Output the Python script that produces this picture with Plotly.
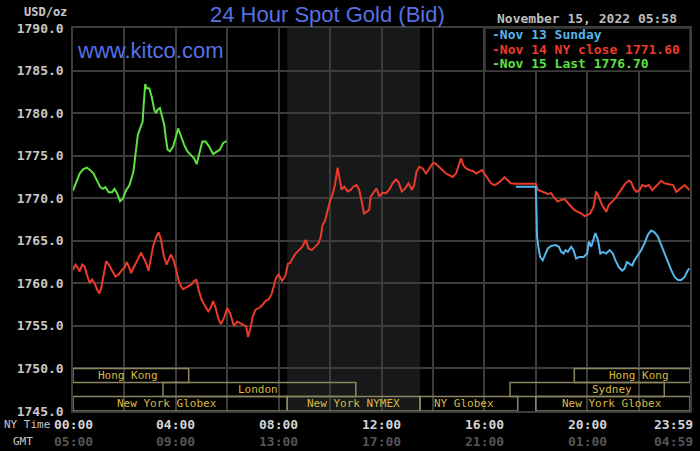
import plotly.graph_objects as go

# ---------------- data (hours since 00:00 NY time, USD/oz) ----------------
green_t = [0.0, 0.13, 0.26, 0.39, 0.54, 0.67, 0.8, 0.93, 1.06, 1.16, 1.26, 1.39, 1.52, 1.61, 1.72, 1.83,
           1.94, 2.06, 2.19, 2.35, 2.43, 2.52, 2.61, 2.71, 2.74, 2.81, 2.86, 2.97, 3.07, 3.16, 3.23, 3.29,
           3.38, 3.46, 3.55, 3.61, 3.68, 3.77, 3.9, 4.0, 4.09, 4.19, 4.32, 4.45, 4.58, 4.71, 4.81, 4.9,
           5.03, 5.16, 5.29, 5.45, 5.58, 5.71, 5.84, 5.97]
green_v = [1770.9, 1771.9, 1772.9, 1773.4, 1773.6, 1773.3, 1772.9, 1772.1, 1771.3, 1771.1, 1771.3, 1770.7,
           1770.7, 1771.1, 1770.55, 1769.65, 1769.95, 1770.9, 1771.5, 1773.1, 1775.1, 1777.4, 1778.2, 1779.0,
           1780.6, 1783.4, 1782.95, 1782.9, 1781.8, 1780.4, 1780.0, 1780.4, 1780.6, 1779.6, 1778.6, 1777.05,
           1775.7, 1775.5, 1776.1, 1777.2, 1778.2, 1777.4, 1776.3, 1775.5, 1775.1, 1774.7, 1774.0, 1775.1,
           1776.65, 1776.65, 1776.1, 1775.2, 1775.5, 1775.7, 1776.5, 1776.7]

red_t = [0.0, 0.1, 0.19, 0.26, 0.36, 0.45, 0.54, 0.65, 0.74, 0.84, 0.93, 1.03, 1.1, 1.19, 1.29, 1.39,
         1.52, 1.65, 1.78, 1.91, 2.0, 2.09, 2.17, 2.26, 2.35, 2.45, 2.54, 2.65, 2.74, 2.84, 2.94, 3.03,
         3.12, 3.23, 3.33, 3.42, 3.52, 3.64, 3.72, 3.81, 3.9, 4.0, 4.1, 4.19, 4.28, 4.39, 4.49, 4.62,
         4.71, 4.8, 4.9, 5.0, 5.14, 5.26, 5.35, 5.45, 5.55, 5.65, 5.75, 5.87, 6.0, 6.13, 6.26, 6.39,
         6.52, 6.65, 6.74, 6.81, 6.9, 6.99, 7.1, 7.23, 7.35, 7.48, 7.61, 7.72, 7.81, 7.9, 8.0, 8.13,
         8.26, 8.36, 8.45, 8.53, 8.66, 8.79, 8.92, 9.05, 9.16, 9.29, 9.42, 9.55, 9.64, 9.7, 9.81, 9.9,
         9.99, 10.09, 10.19, 10.29, 10.35, 10.45, 10.55, 10.68, 10.81, 10.9, 11.03, 11.13, 11.23, 11.32,
         11.42, 11.52, 11.58, 11.68, 11.81, 11.91, 12.04, 12.17, 12.3, 12.43, 12.56, 12.66, 12.79, 12.92,
         13.05, 13.18, 13.27, 13.36, 13.47, 13.6, 13.73, 13.86, 13.99, 14.09, 14.22, 14.38, 14.51, 14.64,
         14.77, 14.9, 15.0, 15.09, 15.18, 15.29, 15.42, 15.55, 15.68, 15.81, 15.91, 16.0, 16.13, 16.26,
         16.39, 16.52, 16.65, 16.78, 16.91, 17.04, 17.17, 17.5, 17.8, 18.0, 18.08, 18.21, 18.34, 18.47,
         18.6, 18.73, 18.86, 18.99, 19.12, 19.25, 19.38, 19.51, 19.64, 19.77, 19.9, 20.0, 20.12, 20.25,
         20.35, 20.45, 20.58, 20.74, 20.84, 20.97, 21.1, 21.23, 21.36, 21.49, 21.62, 21.71, 21.81, 21.91,
         22.04, 22.14, 22.27, 22.4, 22.53, 22.66, 22.79, 22.88, 23.01, 23.18, 23.34, 23.47, 23.62, 23.79,
         23.92, 23.98]
red_v = [1761.6, 1762.2, 1761.8, 1761.4, 1762.2, 1762.0, 1761.0, 1760.05, 1760.45, 1760.05, 1759.3, 1758.8,
         1759.5, 1761.2, 1762.6, 1762.2, 1761.4, 1760.8, 1761.05, 1761.6, 1761.8, 1762.5, 1762.0, 1761.2,
         1761.8, 1762.4, 1762.8, 1763.6, 1763.0, 1762.4, 1761.5, 1763.0, 1764.4, 1765.4, 1766.0, 1765.2,
         1763.4, 1762.2, 1762.8, 1763.4, 1762.8, 1761.8, 1760.45, 1759.7, 1759.3, 1759.5, 1759.7, 1759.9,
         1760.3, 1760.4, 1759.1, 1758.1, 1757.3, 1756.7, 1757.1, 1757.9, 1757.1, 1755.9, 1755.2, 1755.9,
         1757.1, 1756.3, 1755.0, 1755.5, 1755.3, 1755.1, 1754.9, 1753.7, 1754.7, 1756.1, 1756.9, 1757.1,
         1757.4, 1757.9, 1758.1, 1758.7, 1759.7, 1760.65, 1761.05, 1760.3, 1760.85, 1762.3, 1762.4, 1762.9,
         1763.5, 1763.9, 1764.3, 1765.1, 1764.1, 1763.9, 1764.3, 1764.7, 1765.5, 1766.8, 1767.4, 1768.6,
         1769.6, 1770.4, 1771.55, 1773.6, 1772.5, 1771.0, 1771.35, 1770.8, 1771.0, 1771.35, 1771.55, 1771.0,
         1769.6, 1768.2, 1768.4, 1768.6, 1770.2, 1770.65, 1771.15, 1770.2, 1770.65, 1770.6, 1771.0, 1771.75,
         1772.2, 1771.9, 1770.8, 1771.15, 1771.75, 1771.0, 1771.55, 1773.1, 1773.7, 1773.5, 1772.9, 1773.5,
         1774.1, 1774.1, 1773.7, 1773.3, 1772.9, 1772.7, 1772.5, 1772.9, 1773.9, 1774.7, 1773.9, 1773.5,
         1773.3, 1773.2, 1772.9, 1773.1, 1773.3, 1772.9, 1772.3, 1771.75, 1771.55, 1771.75, 1772.05, 1772.45,
         1772.1, 1771.75, 1771.7, 1771.7, 1771.7, 1771.7, 1771.0, 1770.8, 1770.65, 1770.5, 1770.6, 1770.0,
         1769.6, 1769.8, 1769.9, 1769.4, 1769.0, 1768.6, 1768.4, 1768.2, 1767.9, 1768.0, 1768.2, 1769.0,
         1770.8, 1770.2, 1769.2, 1768.4, 1769.2, 1769.6, 1770.0, 1770.6, 1771.15, 1771.75, 1772.05, 1771.9,
         1771.15, 1770.75, 1770.95, 1771.55, 1771.4, 1771.55, 1770.95, 1771.35, 1771.8, 1772.05, 1771.75,
         1771.65, 1771.55, 1770.75, 1771.15, 1771.55, 1771.15, 1770.95]

blue_t = [17.23, 17.6, 18.0, 18.03, 18.05, 18.1, 18.17, 18.27, 18.38, 18.47, 18.6, 18.77, 18.9, 18.99,
          19.08, 19.16, 19.25, 19.38, 19.47, 19.57, 19.7, 19.86, 20.0, 20.07, 20.16, 20.25, 20.32, 20.42,
          20.51, 20.61, 20.74, 20.87, 21.0, 21.1, 21.23, 21.36, 21.45, 21.55, 21.65, 21.75, 21.84, 21.97,
          22.1, 22.23, 22.36, 22.49, 22.62, 22.75, 22.88, 23.01, 23.14, 23.27, 23.4, 23.53, 23.66, 23.79,
          23.92, 23.98]
blue_v = [1771.35, 1771.35, 1771.35, 1768.2, 1765.5, 1764.3, 1763.1, 1762.7, 1763.5, 1764.1, 1764.4, 1764.5,
          1764.3, 1763.7, 1763.5, 1763.9, 1763.7, 1764.3, 1763.9, 1762.9, 1763.1, 1763.1, 1763.5, 1764.9,
          1764.3, 1765.1, 1765.9, 1765.1, 1763.5, 1763.7, 1763.5, 1763.9, 1763.5, 1762.7, 1761.9, 1761.5,
          1761.7, 1762.5, 1762.3, 1762.1, 1762.7, 1763.3, 1763.9, 1764.7, 1765.7, 1766.2, 1766.0, 1765.5,
          1764.5, 1763.5, 1762.5, 1761.55, 1760.75, 1760.4, 1760.4, 1760.75, 1761.55, 1761.75]

legend_labels = ["Nov 13 Sunday", "Nov 14 NY close 1771.60", "Nov 15 Last 1776.70"]

y_ticks = [1745, 1750, 1755, 1760, 1765, 1770, 1775, 1780, 1785, 1790]
x_tick_hours = [0, 4, 8, 12, 16, 20, 24]
ny_labels = ["00:00", "04:00", "08:00", "12:00", "16:00", "20:00", "23:59"]
gmt_labels = ["05:00", "09:00", "13:00", "17:00", "21:00", "01:00", "04:59"]

nymex_start, nymex_end = 8.333, 13.5

session_names = ["Hong Kong", "Hong Kong", "London", "Sydney",
                 "New York Globex", "New York NYMEX", "NY Globex", "New York Globex"]
session_start = [0, 19.5, 3.5, 17, 0, 8.333, 13.5, 18]
session_end = [4.5, 24, 11, 23, 8.333, 13.5, 17.3, 24]
session_row = [0, 0, 1, 1, 2, 2, 2, 2]

# ---------------- styling ----------------
BG = "#000000"
GRID = "#3c3c3c"
MONO = "DejaVu Sans Mono"
SANS = "Liberation Sans"
C_BLUE = "#55b6ea"
C_RED = "#ea3b2a"
C_GREEN = "#5fe043"
BOX = "#8c8660"
BOX_TXT = "#d8b845"
TITLE_C = "#5670e4"

L, R, T, B = 73, 10, 28, 40
W, H = 700, 451
PW, PH = W - L - R, H - T - B

row_edges = [1750.0, 1748.35, 1746.7, 1745.0]
label_x = [2.15, 22.0, 7.2, 20.95, 3.65, 10.9, 15.2, 20.95]


def px_x(x):
    return (x - L) / PW


def px_y(y):
    return 1 - (y - T) / PH


fig = go.Figure()

fig.add_trace(go.Scatter(x=red_t, y=red_v, mode="lines", line=dict(color=C_RED, width=2),
                         name=legend_labels[1], showlegend=False))
fig.add_trace(go.Scatter(x=blue_t, y=blue_v, mode="lines", line=dict(color=C_BLUE, width=2),
                         name=legend_labels[0], showlegend=False))
fig.add_trace(go.Scatter(x=green_t, y=green_v, mode="lines", line=dict(color=C_GREEN, width=2),
                         name=legend_labels[2], showlegend=False))

shapes = []
# NYMEX shaded session
shapes.append(dict(type="rect", xref="x", yref="y", x0=nymex_start, x1=nymex_end, y0=1745, y1=1790,
                   fillcolor="#16181a", line=dict(width=0), layer="below"))
# market session boxes
for s, e, r in zip(session_start, session_end, session_row):
    shapes.append(dict(type="rect", xref="x", yref="y", x0=s, x1=e,
                       y0=row_edges[r + 1], y1=row_edges[r],
                       line=dict(color=BOX, width=1.5), fillcolor="rgba(0,0,0,0)", layer="above"))
# legend box
shapes.append(dict(type="rect", xref="paper", yref="paper", x0=px_x(485), x1=1.0,
                   y0=px_y(71), y1=1.0, fillcolor=BG, line=dict(color=GRID, width=1.5),
                   layer="above"))

annotations = []
for name, lx, r in zip(session_names, label_x, session_row):
    annotations.append(dict(x=lx, y=(row_edges[r] + row_edges[r + 1]) / 2, xref="x", yref="y",
                            text=name, showarrow=False, font=dict(family=MONO, size=11, color=BOX_TXT),
                            xanchor="center", yanchor="middle"))

for h, ny, gmt in zip(x_tick_hours, ny_labels, gmt_labels):
    anchor = "right" if h == 24 else "center"
    shift = 5 if h == 24 else 0
    annotations.append(dict(x=h, y=px_y(424), xref="x", yref="paper", text=ny, showarrow=False,
                            font=dict(family=MONO, size=13, color="#d4d4d4", weight="bold"),
                            xanchor=anchor, xshift=shift, yanchor="middle"))
    annotations.append(dict(x=h, y=px_y(441), xref="x", yref="paper", text=gmt, showarrow=False,
                            font=dict(family=MONO, size=13, color="#555555", weight="bold"),
                            xanchor=anchor, xshift=shift, yanchor="middle"))

annotations += [
    dict(x=px_x(2), y=px_y(424), xref="paper", yref="paper", text="NY Time", showarrow=False,
         xanchor="left", yanchor="middle", font=dict(family=MONO, size=11, color="#c8c8c8")),
    dict(x=px_x(11), y=px_y(441), xref="paper", yref="paper", text="GMT", showarrow=False,
         xanchor="left", yanchor="middle", font=dict(family=MONO, size=11, color="#c8c8c8")),
    dict(x=px_x(327), y=px_y(15), xref="paper", yref="paper", text="24 Hour Spot Gold (Bid)",
         showarrow=False, xanchor="center", yanchor="middle",
         font=dict(family=SANS, size=22, color=TITLE_C)),
    dict(x=px_x(75), y=px_y(51), xref="paper", yref="paper", text="www.kitco.com",
         showarrow=False, xanchor="left", yanchor="middle",
         font=dict(family=SANS, size=22, color=TITLE_C)),
    dict(x=px_x(69), y=px_y(12), xref="paper", yref="paper", text="USD/oz",
         showarrow=False, xanchor="right", yanchor="middle",
         font=dict(family=MONO, size=12, color="#c8c8c8", weight="bold")),
    dict(x=px_x(679), y=px_y(18), xref="paper", yref="paper", text="November 15, 2022 05:58",
         showarrow=False, xanchor="right", yanchor="middle",
         font=dict(family=MONO, size=13, color="#bdbdbd", weight="bold")),
]
leg_colors = [C_BLUE, C_RED, C_GREEN]
leg_y = [35, 49, 63]
for lab, col, yy in zip(legend_labels, leg_colors, leg_y):
    annotations.append(dict(x=px_x(490), y=px_y(yy), xref="paper", yref="paper", text="-" + lab,
                            showarrow=False, xanchor="left", yanchor="middle",
                            font=dict(family=MONO, size=13, color=col, weight="bold")))

fig.update_layout(
    width=W, height=H,
    margin=dict(l=L, r=R, t=T, b=B, autoexpand=False),
    paper_bgcolor=BG, plot_bgcolor=BG,
    showlegend=False,
    shapes=shapes, annotations=annotations,
    xaxis=dict(range=[0, 24], dtick=2, tick0=0, showgrid=True, gridcolor=GRID, gridwidth=1.5,
               showticklabels=False, zeroline=False, showline=True, linecolor=GRID, linewidth=1.5,
               mirror=True, fixedrange=True),
    yaxis=dict(range=[1745, 1790], tickvals=y_ticks, ticktext=[f"{v:.1f}" for v in y_ticks],
               showgrid=True, gridcolor=GRID, gridwidth=1.5, zeroline=False, showline=True,
               linecolor=GRID, linewidth=1.5, mirror=True, ticks="", ticklabelstandoff=5,
               tickfont=dict(family=MONO, size=13, color="#c8c8c8", weight="bold"), fixedrange=True),
)

fig.write_html("out.html", config={"displayModeBar": False},
               post_script="document.body.style.margin='0';document.body.style.background='#000';")
